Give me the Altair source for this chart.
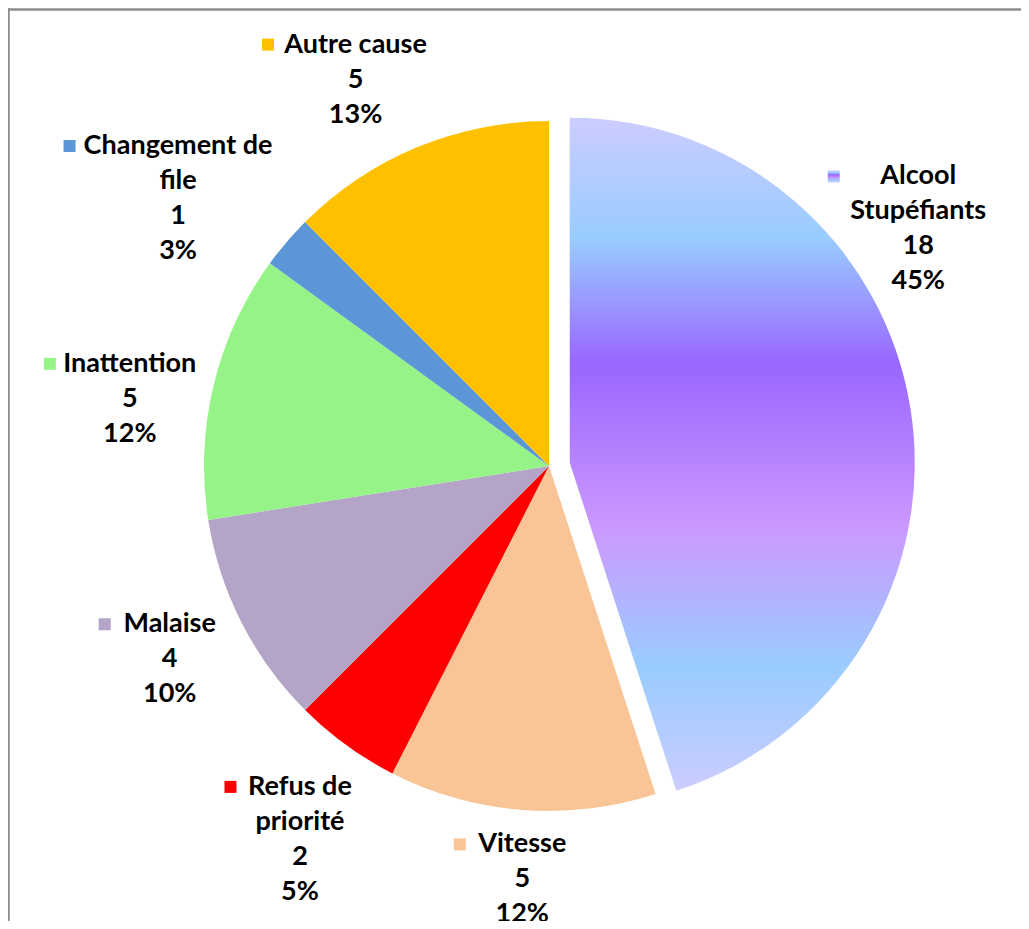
import math
import altair as alt
import pandas as pd

# ---- data ----
causes = ["Alcool\nStupéfiants", "Vitesse", "Refus de\npriorité", "Malaise",
          "Inattention", "Changement de\nfile", "Autre cause"]
counts = [18, 5, 2, 4, 5, 1, 5]
pct_labels = ["45%", "12%", "5%", "10%", "12%", "3%", "13%"]

# ---- styles ----
slice_colors = ["#b0b8ff", "#fac596", "#ff0000", "#b4a5c8", "#96f387", "#5b96d6", "#ffc000"]
gradient_stops = [(0.0, "#ccccff"), (0.18, "#99ccff"), (0.365, "#9966ff"),
                  (0.61, "#cc99ff"), (0.815, "#99ccff"), (1.0, "#ccccff")]

# ---- layout ----
W, H = 1013, 913
CX, CY = 541, 458
R = 345
EXPLODE = 21
FONT = "Lato"
FS = 27
LH = 35
GAP = 12
KEY_GAP = 18
# Excel's own label placement: (angle nudge in degrees, radial nudge in px)
label_nudge = {
    "Alcool\nStupéfiants": (-23.7, -12),
    "Changement de\nfile": (-4.7, -14),
    "Autre cause": (-4.1, -3),
    "Inattention": (-4.4, -2),
    "Malaise": (0, 3),
    "Refus de\npriorité": (-2.3, 5),
    "Vitesse": (-0.8, 2),
}


def text_width(s):
    """Rough advance width of a bold label line, in px."""
    narrow, wide = set("iltfjr I"), set("mMW")
    w = 0
    for ch in s:
        if ch in narrow:
            w += 8
        elif ch in wide:
            w += 22
        elif ch.isupper():
            w += 17
        else:
            w += 14
    return w


df = pd.DataFrame({"cause": causes, "count": counts, "pct": pct_labels,
                   "order": list(range(len(causes)))})
df["hw"] = [max(text_width(line) for line in c.split("\n")) / 2 for c in causes]
df["nudge_a"] = [label_nudge.get(c, (0, 0))[0] for c in causes]
df["nudge_r"] = [label_nudge.get(c, (0, 0))[1] for c in causes]

main_mid = 2 * math.pi * (counts[0] / 2) / sum(counts)
ex_x = CX + EXPLODE * math.sin(main_mid)
ex_y = CY - EXPLODE * math.cos(main_mid)

grad = alt.LinearGradient(
    gradient="linear", x1=0, y1=0, x2=0, y2=1,
    stops=[alt.GradientStop(offset=o, color=c) for o, c in gradient_stops])

theta_scale = alt.Scale(domain=[0, 1], range=[0, 2 * math.pi])
color_scale = alt.Scale(domain=causes, range=slice_colors)

base = alt.Chart(df).transform_window(
    cum="sum(count)", sort=[alt.SortField("order")], frame=[None, 0]
).transform_joinaggregate(total="sum(count)").transform_calculate(
    t0="(datum.cum - datum.count) / datum.total",
    t1="datum.cum / datum.total",
)

arcs = base.transform_filter("datum.order != 0").mark_arc(radius=R, strokeWidth=0).encode(
    theta=alt.Theta("t0:Q", scale=theta_scale),
    theta2="t1:Q",
    color=alt.Color("cause:N", scale=color_scale, legend=None),
    x=alt.value(CX), y=alt.value(CY),
)

main = base.transform_filter("datum.order == 0").mark_arc(radius=R, fill=grad, strokeWidth=0).encode(
    theta=alt.Theta("t0:Q", scale=theta_scale),
    theta2="t1:Q",
    x=alt.value(ex_x), y=alt.value(ex_y),
)

lab = base.transform_calculate(
    label="datum.cause + '\\n' + datum.count + '\\n' + datum.pct",
    nlines="length(split(datum.cause, '\\n')) + 2",
).transform_calculate(
    hh=f"datum.nlines * {LH} / 2",
    ang="(datum.t0 + datum.t1) * PI + datum.nudge_a * PI / 180",
).transform_calculate(
    dist=f"{R + GAP} + datum.nudge_r + abs(datum.hw * sin(datum.ang)) + abs(datum.hh * cos(datum.ang))",
).transform_calculate(
    lx=f"{CX} + datum.dist * sin(datum.ang)",
    ly=f"{CY} - datum.dist * cos(datum.ang)",
).transform_calculate(
    kx=f"datum.lx - datum.hw - {KEY_GAP}",
    ky=f"datum.ly - datum.hh + {LH / 2}",
)

texts = lab.mark_text(font=FONT, fontSize=FS, fontWeight="bold", lineBreak="\n",
                      lineHeight=LH, align="center", baseline="middle", color="#000000").encode(
    x=alt.X("lx:Q", scale=None, axis=None),
    y=alt.Y("ky:Q", scale=None, axis=None),
    text="label:N",
)

keys = lab.transform_filter("datum.order != 0").mark_square(size=144, opacity=1, filled=True).encode(
    x=alt.X("kx:Q", scale=None, axis=None),
    y=alt.Y("ky:Q", scale=None, axis=None),
    color=alt.Color("cause:N", scale=color_scale, legend=None),
)

key_main = lab.transform_filter("datum.order == 0").mark_square(
    size=144, opacity=1, fill=grad, strokeWidth=0).encode(
    x=alt.X("kx:Q", scale=None, axis=None),
    y=alt.Y("ky:Q", scale=None, axis=None),
)

frame_df = pd.DataFrame({"edge": ["frame"]})
border_top = alt.Chart(frame_df).mark_rule(color="#8c8c8c", strokeWidth=2.5).encode(
    x=alt.value(0), x2=alt.value(W), y=alt.value(1.5))
border_left = alt.Chart(frame_df).mark_rule(color="#8c8c8c", strokeWidth=2.5).encode(
    x=alt.value(0.5), y=alt.value(0), y2=alt.value(H))

chart = alt.layer(border_top, border_left, arcs, main, texts, keys, key_main).properties(
    width=W, height=H, padding=0, autosize="none"
).configure_view(stroke=None)

chart.save("out.html", embed_options={"renderer": "svg", "actions": False})
